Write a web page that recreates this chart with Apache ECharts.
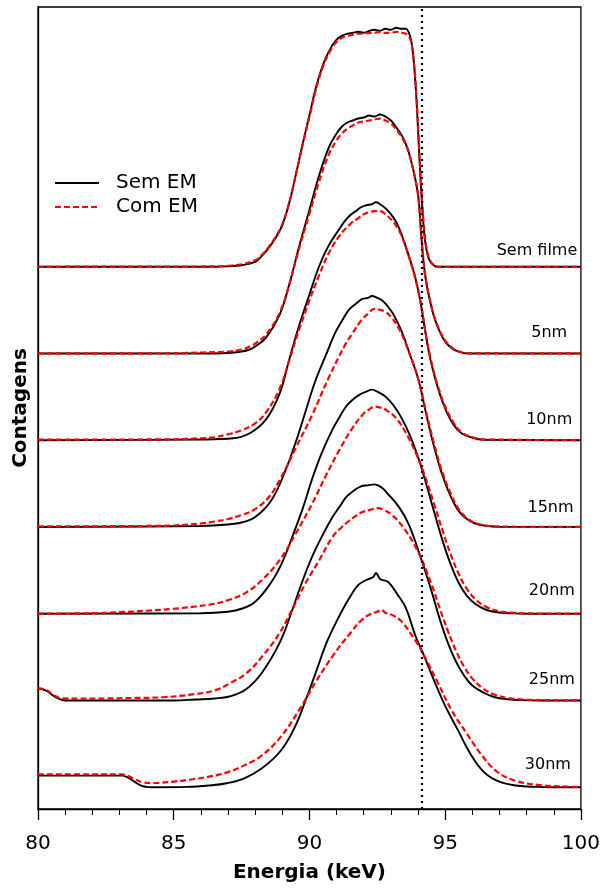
<!DOCTYPE html>
<html>
<head>
<meta charset="utf-8">
<script src="https://cdn.jsdelivr.net/npm/echarts@6/dist/echarts.min.js"></script>
<style>
  html, body { margin: 0; padding: 0; background: #fff; }
  #chart { width: 603px; height: 888px; }
</style>
</head>
<body>
<div id="chart"></div>
<script>
// film labels, top to bottom
const films = ['Sem filme', '5nm', '10nm', '15nm', '20nm', '25nm', '30nm'];
const legendNames = ['Sem EM', 'Com EM'];
const xTicks = [80, 85, 90, 95, 100];
const edgeEnergy = 94.15; // dotted reference line (keV)

// counts (a.u.) vs energy (keV), without the stacking offset
const semFilmeSem = [[80,0],[86.5,0],[87,0.5],[87.5,1.5],[88,5],[88.25,11],[88.5,19],[88.75,29],[89,42],[89.25,64],[89.5,93],[89.75,124],[90,153],[90.25,182],[90.5,204],[90.75,219],[91,229],[91.2,233],[91.4,235],[91.6,236],[91.8,237],[92,236],[92.2,238],[92.4,239],[92.6,238],[92.8,240],[93,239],[93.2,241],[93.4,240],[93.55,240],[93.65,237],[93.75,228],[93.85,205],[93.95,165],[94.05,110],[94.15,62],[94.25,28],[94.35,12],[94.45,5],[94.6,1],[94.7,0],[100,0]];
const semFilmeCom = [[80,0],[86.5,0.3],[87,1],[87.5,2.5],[88,6.5],[88.25,12],[88.5,20],[88.75,30],[89,43],[89.25,64],[89.5,93],[89.75,123],[90,151],[90.25,180],[90.5,202],[90.75,217],[91,227],[91.2,231],[91.4,233],[91.6,234],[91.8,235],[92,235],[92.2,236],[92.4,236],[92.6,237],[92.8,236],[93,236],[93.2,237],[93.4,236],[93.55,235],[93.65,233],[93.75,226],[93.85,206],[93.95,168],[94.05,115],[94.15,66],[94.25,31],[94.35,14],[94.45,6],[94.6,1.5],[94.75,0],[100,0]];

const nm5Sem = [[80,0],[86,0],[87,0.5],[87.5,2],[87.8,4],[88,7],[88.4,16],[88.9,39],[89.25,69],[89.6,106],[90,145],[90.35,179],[90.7,207],[91,222],[91.2,229],[91.4,233],[91.6,235],[91.8,237],[92,238],[92.2,240],[92.4,239],[92.6,241],[92.8,239],[93,235],[93.2,228],[93.4,220],[93.6,208],[93.8,188],[94,160],[94.1,126],[94.2,93],[94.3,72],[94.45,52],[94.6,36],[94.8,22],[95,12],[95.25,5],[95.5,2],[95.8,0],[100,0]];
const nm5Com = [[80,0],[85,0.3],[86,1],[87,2],[87.5,4],[87.8,7],[88,10],[88.4,19],[88.9,41],[89.25,69],[89.6,104],[90,141],[90.35,173],[90.7,200],[91,215],[91.2,222],[91.4,227],[91.6,230],[91.8,233],[92,234],[92.2,235],[92.4,236],[92.6,237],[92.8,235],[93,232],[93.2,226],[93.4,218],[93.6,207],[93.8,188],[94,160],[94.1,127],[94.2,94],[94.3,73],[94.45,53],[94.6,37],[94.8,23],[95,13],[95.25,6],[95.5,2],[95.8,0.5],[100,0]];

const nm10Sem = [[80,0],[86,0.7],[87.2,2],[87.8,7],[88.4,21],[88.9,47],[89.25,81],[89.6,114],[90,147],[90.35,175],[90.7,196],[91.1,213],[91.3,221],[91.5,227],[91.7,231],[91.9,235],[92.1,237],[92.3,238],[92.45,240],[92.6,238],[92.8,234],[93,228],[93.2,220],[93.4,207],[93.65,187],[93.9,164],[94.1,138],[94.3,104],[94.5,76],[94.75,51],[95,32],[95.3,16],[95.6,7],[96,2.5],[96.4,0.5],[100,0]];
const nm10Com = [[80,0.5],[85,1],[86,2],[86.5,3],[87,6],[87.5,10],[88,17],[88.4,28],[88.9,52],[89.25,80],[89.6,110],[90,141],[90.35,166],[90.7,188],[91.1,206],[91.5,218],[91.8,224],[92,228],[92.2,230],[92.4,231],[92.6,231],[92.8,228],[93,223],[93.2,216],[93.4,206],[93.65,186],[93.9,163],[94.1,138],[94.3,105],[94.5,78],[94.75,53],[95,34],[95.3,18],[95.6,8],[96,3],[96.4,1],[100,0]];

const nm15Sem = [[80,0],[86,1],[87,2.5],[87.5,4.5],[88,10],[88.6,27],[89.1,56],[89.5,86],[89.85,116],[90.2,146],[90.6,173],[90.95,196],[91.2,208],[91.45,219],[91.7,225],[91.95,230],[92.15,231],[92.3,233],[92.5,231],[92.7,228],[92.9,222],[93.1,214],[93.4,197],[93.7,174],[94,150],[94.3,114],[94.6,80],[94.9,52],[95.2,31],[95.5,16],[95.8,8],[96.1,3.5],[96.5,1.2],[97,0.2],[100,0]];
const nm15Com = [[80,0.5],[84,1],[85,1.5],[86,3.5],[86.5,5.5],[87,8],[87.5,12],[88,18],[88.5,30],[88.9,47],[89.5,80],[90.1,113],[90.7,150],[91.3,183],[91.6,196],[91.9,208],[92.15,215],[92.4,220],[92.6,219],[92.8,217],[93,212],[93.3,200],[93.6,181],[94,150],[94.3,116],[94.6,83],[94.9,55],[95.2,34],[95.5,18],[95.8,9],[96.1,4],[96.5,1.5],[97,0.4],[100,0]];

const nm20Sem = [[80,0],[86,0.5],[87,2],[87.5,5],[88,12],[88.6,32],[89,52],[89.4,80],[89.75,106],[90.1,136],[90.45,162],[90.85,186],[91.1,198],[91.35,209],[91.6,216],[91.85,221],[92.1,224],[92.3,226],[92.5,224],[92.8,219],[93.1,210],[93.4,197],[93.7,180],[94,158],[94.3,131],[94.6,102],[94.9,74],[95.2,50],[95.5,31],[95.8,18],[96.1,10],[96.5,4],[97,1.2],[97.5,0.3],[98,0],[100,0]];
const nm20Com = [[80,0],[82,0.5],[83,1.5],[84,3],[85,5],[85.8,7.3],[86.5,10],[87.05,14],[87.65,21],[88.25,34],[88.9,54],[89.5,81],[90.1,111],[90.6,139],[91.1,165],[91.6,188],[92,202],[92.2,206],[92.4,209],[92.6,208],[92.8,206],[93.2,197],[93.6,180],[94,157],[94.3,135],[94.6,110],[94.9,84],[95.2,60],[95.5,40],[95.8,25],[96.1,15],[96.5,7],[97,2.5],[97.5,1],[98,0.3],[100,0]];

const nm25Sem = [[80,12],[80.3,10],[80.5,6],[80.7,2.5],[80.9,0.5],[81.1,0],[85,0],[85.8,1],[86.5,2],[87.05,4],[87.65,11],[88.25,28],[88.9,58],[89.35,90],[89.75,121],[90.1,145],[90.45,165],[90.85,185],[91.1,195],[91.35,205],[91.6,211],[91.9,216],[92.15,217],[92.4,218],[92.65,215],[92.9,208],[93.3,195],[93.65,178],[94.1,144],[94.5,110],[94.8,82],[95.1,58],[95.4,39],[95.7,25],[96,15],[96.4,8],[96.8,3.5],[97.3,1.2],[97.8,0.3],[98.5,0],[100,0]];
const nm25Com = [[80,12.5],[80.3,10.5],[80.6,5],[80.9,2],[81.5,1.8],[82.5,2],[83.5,2.5],[84.6,3.2],[85.8,6.5],[86.5,10],[87.05,17],[87.65,27],[88.25,44],[88.9,68],[89.35,91],[89.85,118],[90.35,141],[90.85,165],[91.2,175],[91.45,181],[91.7,186],[91.95,190],[92.2,192],[92.5,194],[92.75,192],[93.05,187],[93.5,173],[94,150],[94.5,117],[94.8,93],[95.1,70],[95.4,50],[95.7,34],[96,22],[96.4,12],[96.8,6],[97.3,2.5],[97.8,1],[98.5,0.3],[99,0],[100,0]];

const nm30Sem = [[80,11.7],[82,11.7],[83.1,11.7],[83.3,10],[83.55,5.5],[83.8,1.5],[84,0.3],[84.2,0],[85.5,0.3],[86.3,1.7],[86.95,4],[87.6,9],[88.25,19],[88.95,37],[89.45,60],[89.85,87],[90.25,117],[90.65,147],[91.05,170],[91.45,190],[91.8,204],[92.1,209],[92.35,212],[92.45,216],[92.6,210],[92.9,207],[93.25,194],[93.55,181],[93.9,153],[94.2,134],[94.6,107],[95,82],[95.5,56],[95.9,35],[96.4,16],[96.95,6],[97.6,1.7],[98.4,0.3],[99,0],[100,0]];
const nm30Com = [[80,13],[82,13],[83.1,13],[83.35,11],[83.6,7.5],[83.85,5],[84.2,4.2],[85,5.7],[85.7,8],[86.3,10.7],[86.95,14.7],[87.6,22],[88.25,32],[88.95,51],[89.6,77],[90.25,107],[90.9,134],[91.55,157],[91.9,168],[92.2,174],[92.5,177],[92.65,179],[92.8,176],[93.1,173],[93.4,167],[93.9,148],[94.2,134],[94.7,107],[95.25,77],[95.8,54],[96.3,34],[96.85,17],[97.5,7.3],[98.4,2.3],[99.4,0.7],[100,0.3]];

const semEM = [semFilmeSem, nm5Sem, nm10Sem, nm15Sem, nm20Sem, nm25Sem, nm30Sem];
const comEM = [semFilmeCom, nm5Com, nm10Com, nm15Com, nm20Com, nm25Com, nm30Com];

// stacking layout
const baseOffset = 22;
const offsetStep = 87.5;
const yMax = 809;
const labelLift = [16, 20, 20, 19, 23, 20, 22];
const labelEnergy = [98.4, 98.85, 98.85, 98.9, 98.95, 98.95, 98.8];

const font = 'DejaVu Sans';
const chart = echarts.init(document.getElementById('chart'));

const series = [];
const labelData = [];
films.forEach((film, i) => {
  const off = baseOffset + (films.length - 1 - i) * offsetStep;
  series.push({
    name: legendNames[0], type: 'line', symbol: 'none', smooth: 0.4,
    data: semEM[i].map(([e, c]) => [e, c + off]),
    lineStyle: { color: '#000', width: 1.9 }, itemStyle: { color: '#000' }, z: 2
  });
  series.push({
    name: legendNames[1], type: 'line', symbol: 'none', smooth: 0.4,
    data: comEM[i].map(([e, c]) => [e, c + off]),
    lineStyle: { color: '#ff0000', width: 2.2, type: [6, 3] }, itemStyle: { color: '#ff0000' }, z: 3
  });
  labelData.push({ value: [labelEnergy[i], off + labelLift[i]], name: film });
});

series.push({
  name: 'labels', type: 'scatter', symbolSize: 1, silent: true, z: 5,
  itemStyle: { color: 'rgba(0,0,0,0)' },
  data: labelData,
  label: {
    show: true, position: [0, 0], align: 'center', verticalAlign: 'middle', opacity: 1,
    formatter: p => p.name, fontFamily: font, fontSize: 16, color: '#000'
  }
});

series[0].markLine = {
  silent: true, symbol: ['none', 'none'], label: { show: false },
  lineStyle: { color: '#000', type: [2, 4], width: 2.2 },
  data: [{ xAxis: edgeEnergy }]
};

chart.setOption({
  animation: false,
  backgroundColor: '#fff',
  grid: { left: 38, right: 20, top: 7, bottom: 72, show: true, borderColor: '#000', borderWidth: 1.3 },
  legend: {
    data: legendNames, orient: 'vertical', left: 49, top: 168,
    itemWidth: 44, itemHeight: 14, itemGap: 4,
    itemStyle: { opacity: 0 },
    textStyle: { fontFamily: font, fontSize: 20, color: '#000', padding: [0, 0, 0, 12] }
  },
  xAxis: {
    type: 'value', min: xTicks[0], max: xTicks[xTicks.length - 1], interval: 5,
    name: 'Energia (keV)', nameLocation: 'middle', nameGap: 54,
    nameTextStyle: { fontFamily: font, fontSize: 20, fontWeight: 'bold', color: '#000' },
    axisLine: { lineStyle: { color: '#000', width: 1.3 } },
    axisTick: { show: true, length: 11, lineStyle: { color: '#000', width: 1.3 } },
    minorTick: { show: true, splitNumber: 5, length: 6, lineStyle: { color: '#000', width: 1 } },
    axisLabel: { fontFamily: font, fontSize: 20, color: '#000', margin: 25 },
    splitLine: { show: false }
  },
  yAxis: {
    type: 'value', min: 0, max: yMax,
    name: 'Contagens', nameLocation: 'middle', nameGap: 7,
    nameTextStyle: { fontFamily: font, fontSize: 20, fontWeight: 'bold', color: '#000' },
    axisLine: { show: true, lineStyle: { color: '#000', width: 1.3 } },
    axisTick: { show: false }, axisLabel: { show: false }, splitLine: { show: false }
  },
  series: series
});
</script>
</body>
</html>
